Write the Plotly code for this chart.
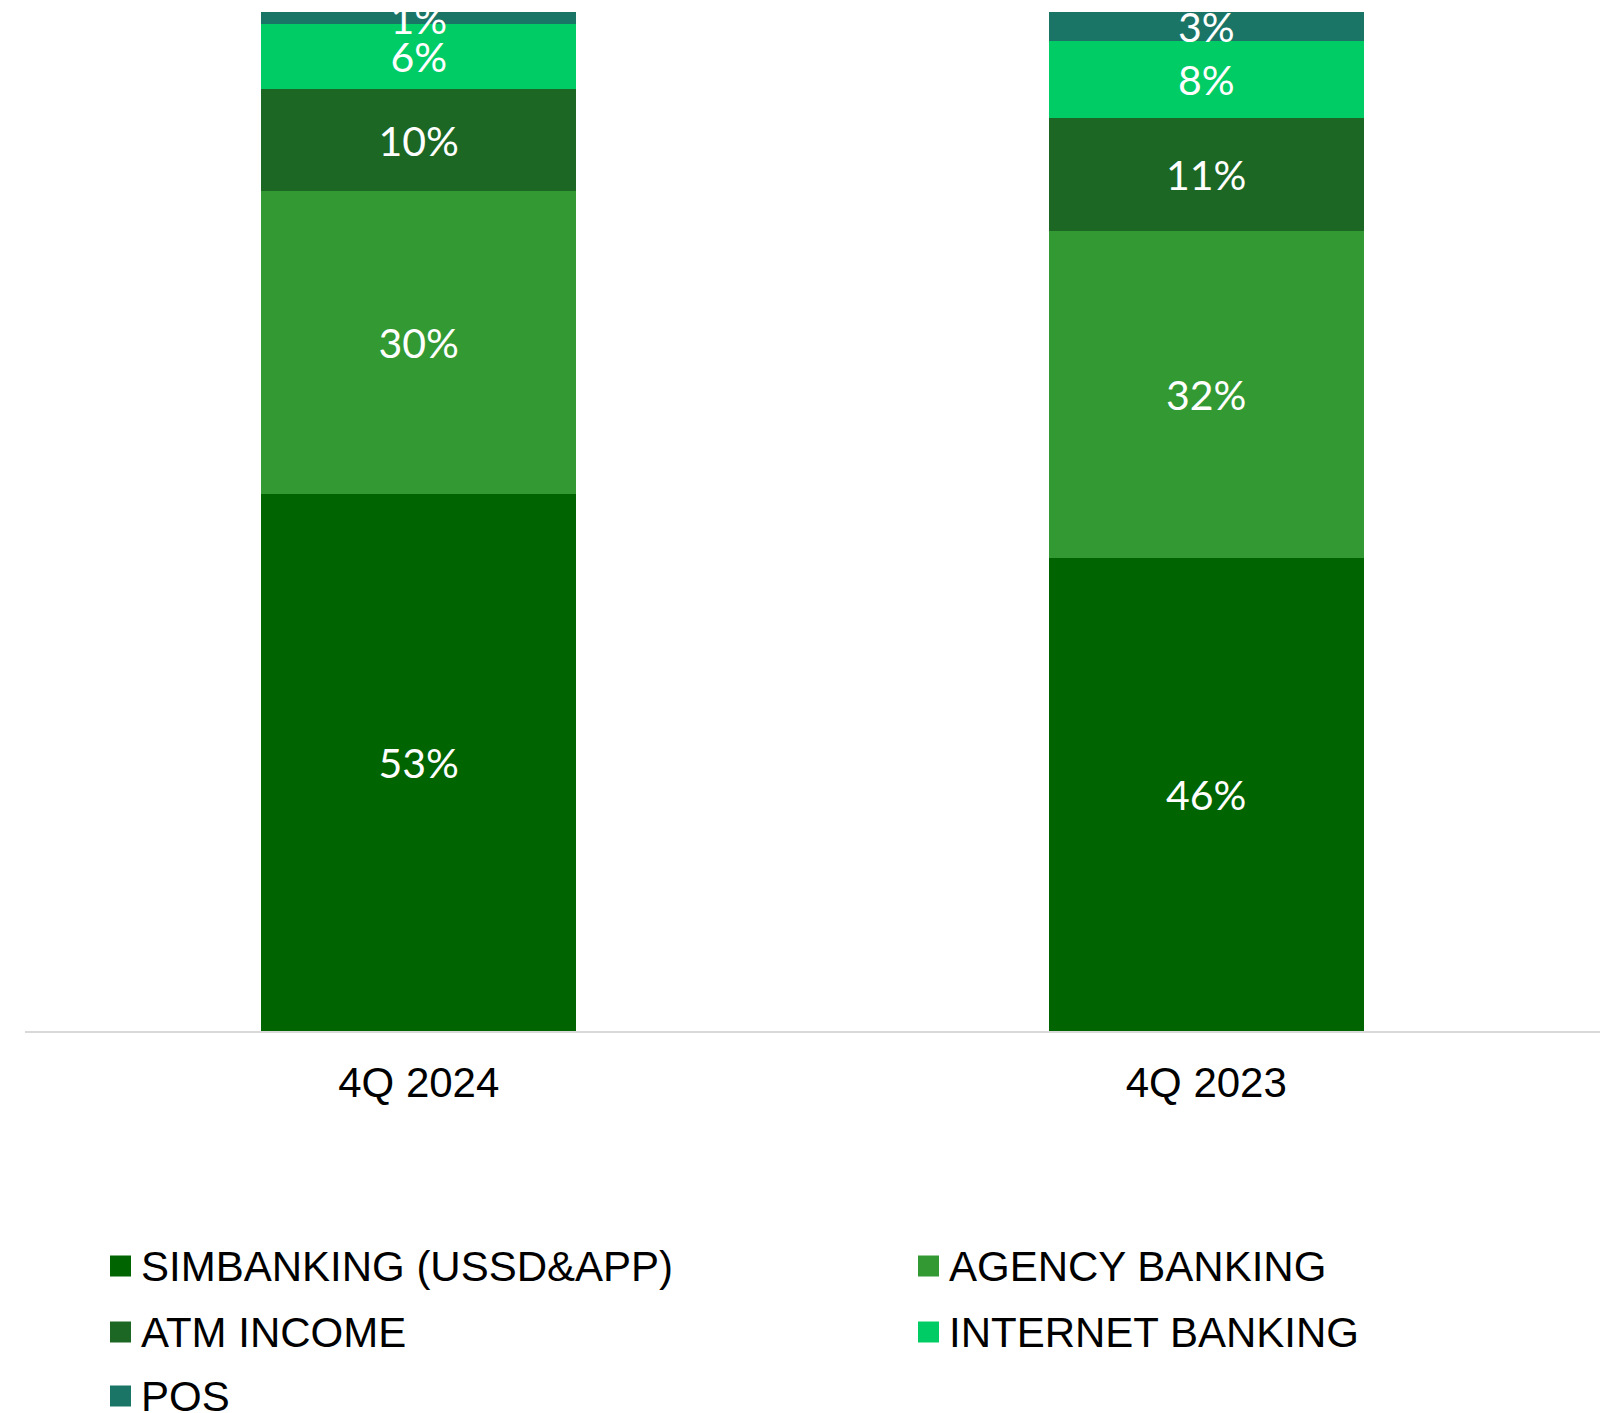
import plotly.graph_objects as go

# Channel income mix by quarter (% share)
quarters = ["4Q 2024", "4Q 2023"]
series_names = ["SIMBANKING (USSD&APP)", "AGENCY BANKING", "ATM INCOME", "INTERNET BANKING", "POS"]
simbanking = [52.7, 46.4]
agency_banking = [29.7, 32.1]
atm_income = [10.0, 11.1]
internet_banking = [6.4, 7.6]
pos = [1.2, 2.8]

series_values = [simbanking, agency_banking, atm_income, internet_banking, pos]
colors = ["#006400", "#339933", "#1b6723", "#00cc66", "#1a7566"]

W, H = 1614, 1413
M_L, M_R, M_T, M_B = 25, 14, 12, 382
plot_w = W - M_L - M_R
plot_h = H - M_T - M_B

fig = go.Figure()
for name, vals, col in zip(series_names, series_values, colors):
    fig.add_trace(go.Bar(
        x=quarters,
        y=vals,
        name=name,
        marker=dict(color=col, line=dict(width=0)),
        texttemplate="%{y:.0f}%",
        textposition="inside",
        insidetextanchor="middle",
        textangle=0,
        constraintext="none",
        textfont=dict(family="Lato, sans-serif", size=41, color="white"),
        hoverinfo="skip",
        showlegend=False,
    ))

# Custom two-column legend below the chart
def px_to_paper_x(px):
    return (px - M_L) / plot_w

def px_to_paper_y(py):
    return (H - M_B - py) / plot_h

row_centers = [1266, 1332, 1396]
col_square_left = [110, 918]
square = 21
text_gap = 8

shapes = []
annotations = []
for i, (name, col) in enumerate(zip(series_names, colors)):
    r, c = divmod(i, 2)
    yc = px_to_paper_y(row_centers[r])
    x0 = col_square_left[c]
    shapes.append(dict(
        type="rect", xref="paper", yref="paper",
        xsizemode="pixel", ysizemode="pixel",
        xanchor=px_to_paper_x(x0), yanchor=yc,
        x0=0, x1=square, y0=-square / 2, y1=square / 2,
        fillcolor=col, line=dict(width=0),
    ))
    annotations.append(dict(
        text=name, xref="paper", yref="paper",
        x=px_to_paper_x(x0 + square + text_gap), y=yc,
        xanchor="left", yanchor="middle", showarrow=False,
        font=dict(family="Arial, Liberation Sans, sans-serif", size=42, color="black"),
    ))

fig.update_layout(
    width=W, height=H,
    margin=dict(l=M_L, r=M_R, t=M_T, b=M_B, pad=0),
    barmode="stack",
    bargap=0.6,
    plot_bgcolor="white",
    paper_bgcolor="white",
    showlegend=False,
    shapes=shapes,
    annotations=annotations,
    xaxis=dict(
        showline=True, linecolor="#d9d9d9", linewidth=2,
        ticks="", showgrid=False, zeroline=False,
        tickfont=dict(family="Arial, Liberation Sans, sans-serif", size=42, color="black"),
        ticklabelstandoff=14,
    ),
    yaxis=dict(range=[0, 100], visible=False, showgrid=False, zeroline=False),
)

fig.write_html("out.html")
